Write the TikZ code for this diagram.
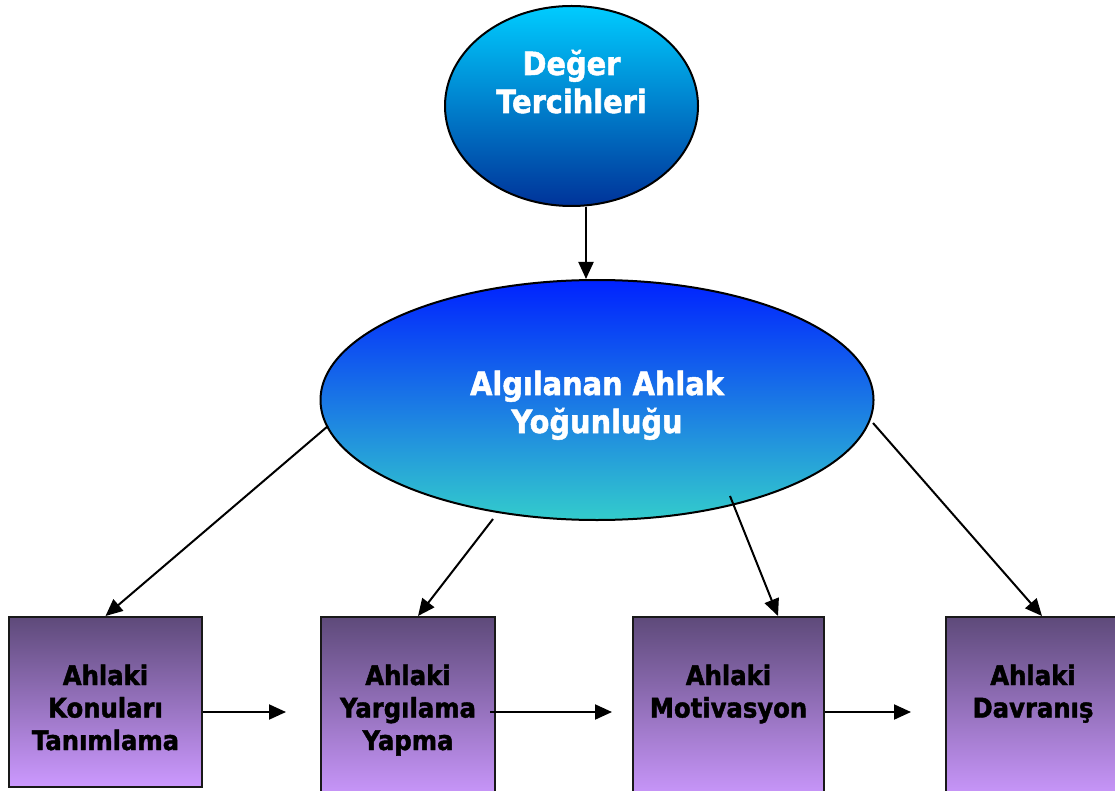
\documentclass[tikz,border=0pt]{standalone}
\usepackage{fontspec}
\setmainfont{DejaVu Sans}[FakeStretch=0.9, BoldFeatures={FakeBold=1.6}]
\usetikzlibrary{arrows.meta,shapes.geometric}

\definecolor{prefTop}{RGB}{0,204,255}
\definecolor{prefBot}{RGB}{0,51,153}
\definecolor{intTop}{RGB}{0,34,255}
\definecolor{intBot}{RGB}{51,204,204}
\definecolor{stageTop}{RGB}{94,74,122}
\definecolor{stageBot}{RGB}{204,153,255}

% text block with its first baseline a given distance below the top
\newcommand{\topblock}[4]{\begin{minipage}[t][#2][t]{#1}\centering\rule{0pt}{#3}#4\end{minipage}}

\begin{document}
\begin{tikzpicture}[x=1pt,y=-1pt,
  conn/.style={line width=2pt,-{Triangle[length=17pt,width=15pt]}},
  oval/.style={ellipse,draw=black,line width=2pt,inner sep=0pt,text=white,
    font=\bfseries\fontsize{32}{38}\selectfont},
  stage/.style={rectangle,draw=black!90,line width=2pt,inner sep=0pt,anchor=north,
    top color=stageTop,bottom color=stageBot,text=black,
    font=\bfseries\fontsize{27}{32.5}\selectfont}
]
\useasboundingbox (0,0) rectangle (1115,791);
\fill[white] (0,0) rectangle (1115,791);
\clip (0,0) rectangle (1115,791);

% ellipses
\node[oval,minimum width=253pt,minimum height=200pt,top color=prefTop,bottom color=prefBot]
  (dt) at (571.5,106) {\topblock{170pt}{140pt}{39pt}{Değer\\Tercihleri}};
\node[oval,minimum width=553pt,minimum height=240pt,top color=intTop,bottom color=intBot]
  (ay) at (597,400) {\topblock{300pt}{160pt}{75pt}{Algılanan Ahlak\\Yoğunluğu}};

% stages
\node[stage] (k1) at (105.5,616) {\topblock{193pt}{170pt}{68pt}{Ahlaki\\Konuları\\Tanımlama}};
\node[stage] (k2) at (408,616) {\topblock{174pt}{185pt}{68pt}{Ahlaki\\Yargılama\\Yapma}};
\node[stage] (k3) at (728.5,616) {\topblock{191pt}{185pt}{68pt}{Ahlaki\\Motivasyon}};
\node[stage] (k4) at (1033,616) {\topblock{174pt}{185pt}{68pt}{Ahlaki\\Davranış}};

% connectors
\draw[conn] ([xshift=14.5pt]dt.south) -- ([xshift=-11pt]ay.north);
\draw[conn] ([shift={(-269,26)}]ay.center) -- (k1.north);
\draw[conn] ([shift={(-104,119)}]ay.center) -- ([xshift=10pt]k2.north);
\draw[conn] ([shift={(133,96)}]ay.center) -- ([xshift=49.5pt]k3.north);
\draw[conn] ([shift={(276,23)}]ay.center) -- ([xshift=9pt]k4.north);

\draw[conn,shorten >=34pt] ([yshift=-96pt]k1.north east) -- ([yshift=-96pt]k2.north west);
\draw[conn,shorten >=20pt] ([shift={(-6,96)}]k2.north east) -- ([yshift=-96pt]k3.north west);
\draw[conn,shorten >=34pt] ([yshift=-96pt]k3.north east) -- ([yshift=-96pt]k4.north west);
\end{tikzpicture}
\end{document}
